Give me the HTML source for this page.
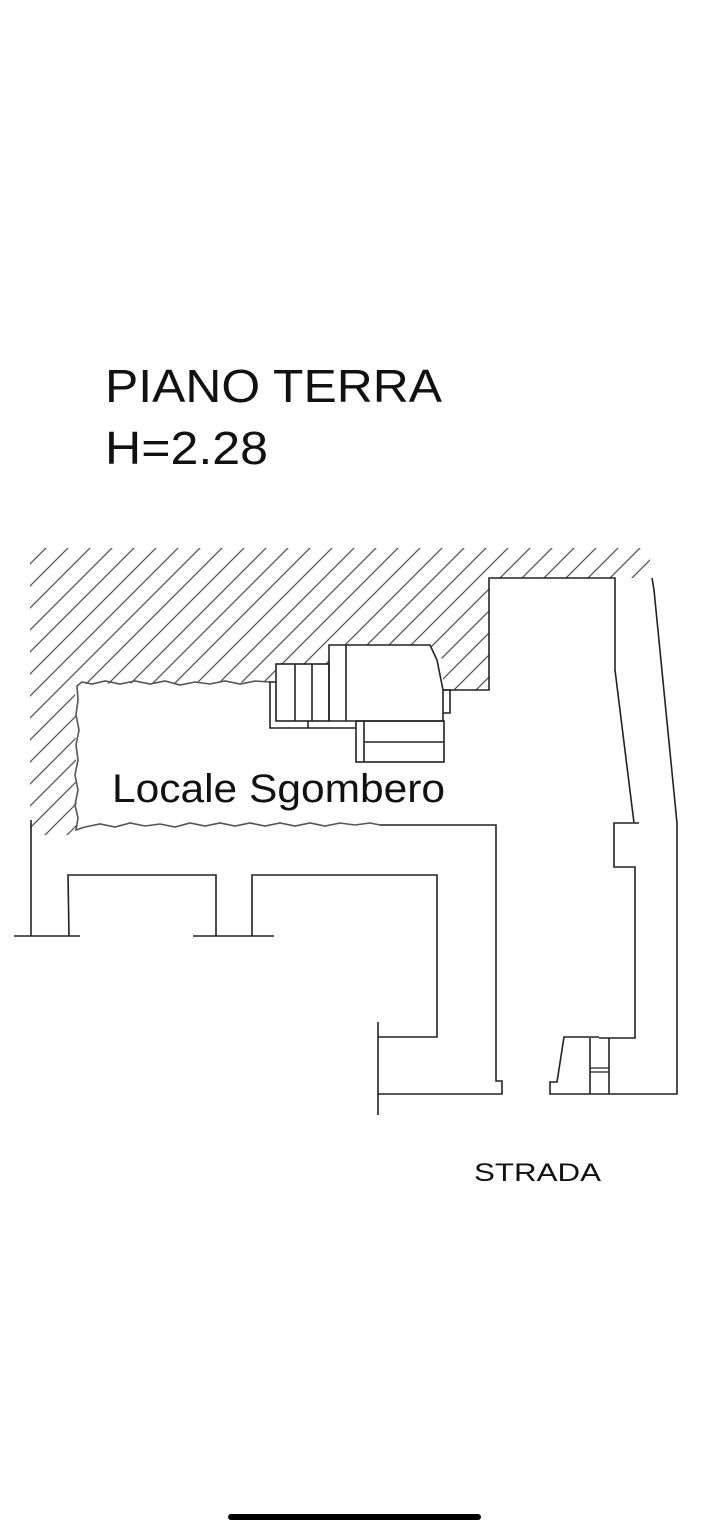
<!DOCTYPE html>
<html><head><meta charset="utf-8"><style>
html,body{margin:0;padding:0;background:#fff;}
svg{display:block;}
text{font-family:"Liberation Sans",sans-serif;fill:#111;}
</style></head><body>
<svg width="709" height="1536" viewBox="0 0 709 1536" xmlns="http://www.w3.org/2000/svg">
<defs>
<pattern id="h" patternUnits="userSpaceOnUse" width="22" height="22">
<path d="M-11,11 L11,-11 M0,22 L22,0 M11,33 L33,11" stroke="#555" stroke-width="1.3"/>
</pattern>
<clipPath id="hc">
<polygon points="30,548 650,548 650,578 489,578 489,690 443,690 443,660 430,645 329,645 329,664 276,664 276,682 75,684 77,835 30,835"/>
</clipPath>
</defs>
<rect x="0" y="0" width="709" height="1536" fill="#fff"/>
<rect x="25" y="545" width="630" height="295" fill="url(#h)" clip-path="url(#hc)"/>

<text x="105" y="402" font-size="46" textLength="337" lengthAdjust="spacingAndGlyphs">PIANO TERRA</text>
<text x="105" y="464" font-size="46" textLength="163" lengthAdjust="spacingAndGlyphs">H=2.28</text>
<text x="112" y="802" font-size="40" textLength="333" lengthAdjust="spacingAndGlyphs">Locale Sgombero</text>
<text x="474" y="1181" font-size="25" textLength="127" lengthAdjust="spacingAndGlyphs">STRADA</text>

<g fill="none" stroke="#222" stroke-width="1.6">
<!-- wavy room top -->
<polyline stroke="#555" points="270,682 255,681 240,684 225,681 210,684 195,682 180,685 165,681 150,684 135,681 120,684 105,681 92,684 82,682 77,686 78,700 76,715 79,730 76,745 78,760 75,775 78,790 75,805 78,818 76,830 85,827"/>
<!-- wavy room bottom -->
<polyline stroke="#555" points="85,827 100,824 115,827 130,823 145,826 160,824 175,827 190,823 205,826 220,823 235,826 250,823 265,826 280,823 295,826 310,823 325,826 340,823 355,825 370,823 380,825"/>
<polyline points="380,825 496,825 496,1081 502,1081 502,1094 378,1094"/>
<line x1="378" y1="1022" x2="378" y2="1115"/>
<polyline points="378,1037 437,1037 437,875 252,875 252,936"/>
<line x1="193" y1="936" x2="274" y2="936"/>
<polyline points="216,936 216,875 68,875 69,936"/>
<line x1="14" y1="936" x2="80" y2="936"/>
<line x1="31" y1="820" x2="31" y2="936"/>

<!-- building top right -->
<polyline points="443,690 489,690 489,578 615,578 615,670 634,823 639,823 614,823 614,867 635,867 635,1038 599,1038"/>
<polyline points="652,578 654,590 677,823 677,1094 550,1094 550,1082 557,1082 564,1037 599,1037"/>
<line x1="590" y1="1038" x2="590" y2="1094"/>
<line x1="609" y1="1038" x2="609" y2="1094"/>
<line x1="590" y1="1068" x2="609" y2="1068" stroke-width="1.2"/>
<line x1="590" y1="1072" x2="609" y2="1072" stroke-width="1.2"/>

<!-- stairs -->
<polyline points="276,682 270,682 270,728 356,728"/>
<rect x="276" y="664" width="53" height="57"/>
<line x1="295" y1="664" x2="295" y2="721"/>
<line x1="312" y1="664" x2="312" y2="721"/>
<line x1="308" y1="721" x2="308" y2="728"/>
<polyline points="329,721 329,645 430,645 437,660 443,690 443,721 329,721"/>
<line x1="346" y1="645" x2="346" y2="721"/>
<polyline points="443,690 450,690 450,713 443,713"/>
<rect x="356" y="721" width="88" height="41"/>
<line x1="364" y1="721" x2="364" y2="762"/>
<line x1="364" y1="742" x2="444" y2="742"/>
</g>
<rect x="228" y="1514" width="253" height="6" rx="3" fill="#000"/>
</svg>
</body></html>
